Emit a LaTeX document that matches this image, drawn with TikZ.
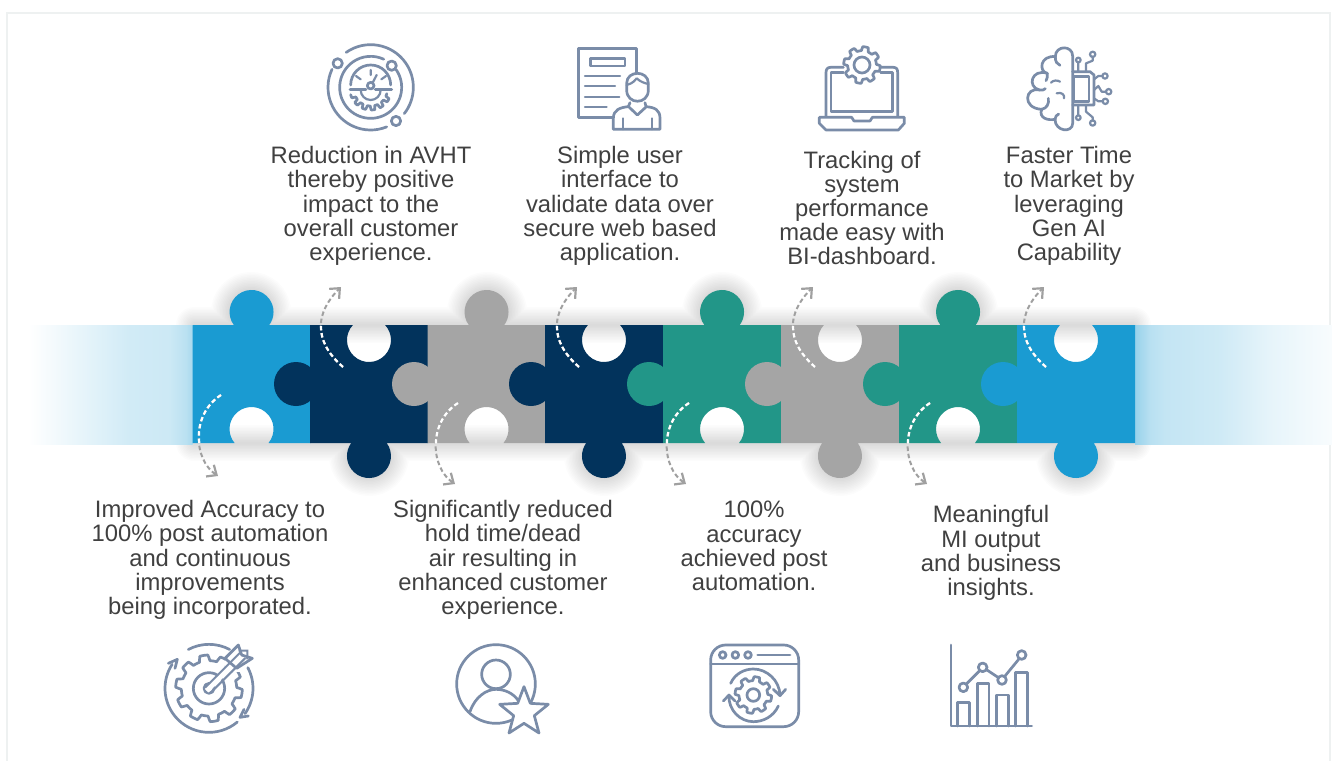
\documentclass[tikz,border=0pt]{standalone}
\usepackage{fontspec}
\setmainfont{Liberation Sans}
\usetikzlibrary{arrows.meta}
\definecolor{pblue}{HTML}{1A9BD2}
\definecolor{pnavy}{HTML}{02335C}
\definecolor{pgray}{HTML}{A5A5A5}
\definecolor{pgreen}{HTML}{229688}
\definecolor{icn}{HTML}{7A8CA8}
\definecolor{txt}{HTML}{404040}
\definecolor{frm}{HTML}{EEF1F1}
\definecolor{arw}{HTML}{A0A0A0}
\pgfdeclarehorizontalshading{bandL}{100bp}{color(0bp)=(white); color(26bp)=(white);
 color(47bp)=(pblue!14!white); color(56bp)=(pblue!20!white); color(68bp)=(pblue!22!white); color(73bp)=(pblue!30!white); color(75bp)=(pblue!38!white); color(100bp)=(pblue!38!white)}
\pgfdeclarehorizontalshading{bandR}{100bp}{color(0bp)=(pblue!45!white); color(25bp)=(pblue!45!white); color(28.8bp)=(pblue!31!white); color(32.6bp)=(pblue!26!white); color(46.6bp)=(pblue!21!white); color(59bp)=(pblue!11!white); color(75bp)=(pblue!3!white); color(100bp)=(pblue!3!white)}
\tikzset{
 lbl/.style={inner sep=0pt,align=center,text=txt,font=\fontsize{23.8}{24.2}\selectfont},
 ic/.style={draw=icn,line width=2.7pt,line join=round,line cap=round},
 ict/.style={draw=icn,line width=2.2pt,line join=round,line cap=round},
 flow/.style={line width=2pt,dash pattern=on 4.5pt off 2.8pt}
}
% piece with top tab and bottom notch: colour, left x
\newcommand\pieceA[2]{\fill[#1] (#2,325) -- ({#2+59-17.7},325) arc[start angle=143.7,end angle=396.3,radius=22pt] -- ({#2+118},325) -- ({#2+118},443) -- ({#2+59+17},443) arc[start angle=39.5,end angle=-219.5,radius=22pt] -- (#2,443) -- cycle;}
% piece with top notch and bottom tab
\newcommand\pieceB[2]{\fill[#1] (#2,325) -- ({#2+59-16.1},325) arc[start angle=223,end angle=-43,radius=22pt] -- ({#2+118},325) -- ({#2+118},443) -- ({#2+59+17.7},443) arc[start angle=-36.3,end angle=216.3,radius=22pt] -- (#2,443) -- cycle;}
\newcommand\sidetab[2]{\fill[#1] ({#2-14},384) circle[radius=22pt];}
\newcommand\toptab[1]{-- ({#1-17.7},325) arc[start angle=143.7,end angle=396.3,radius=22pt]}
\newcommand\bottab[1]{-- ({#1-17.7},443) arc[start angle=216.3,end angle=-36.3,radius=22pt]}
\newcommand\gearplot[7]{plot[samples=181,domain=#7,variable=\t] ({#1+(#3+(#4-#3)*min(1,max(0,.5+1.5*sin(#5*\t+#6))))*cos(\t)},{#2+(#3+(#4-#3)*min(1,max(0,.5+1.5*sin(#5*\t+#6))))*sin(\t)})}
\newcommand\upflow[2]{%
 \coordinate (#1s) at ({343+#2},367);\coordinate (#1a) at ({312+#2},340);\coordinate (#1b) at ({316+#2},312);\coordinate (#1e) at ({341+#2},287);
 \draw[arw,flow,-{Straight Barb[length=8pt,width=14pt,line width=2.2pt]}] (#1s) .. controls (#1a) and (#1b) .. (#1e);
 \begin{scope}\clip (0,325) rectangle (1332,443);
 \draw[white,flow,line width=2.2pt] (#1s) .. controls (#1a) and (#1b) .. (#1e);
 \end{scope}}
\newcommand\downflow[3]{%
 \coordinate (#1s) at ({221+#2},{395+#3});\coordinate (#1a) at ({190+#2},{415+#3});\coordinate (#1b) at ({194+#2},{460+#3});\coordinate (#1e) at ({218+#2},{476+#3});
 \draw[arw,flow,-{Straight Barb[length=8pt,width=14pt,line width=2.2pt]}] (#1s) .. controls (#1a) and (#1b) .. (#1e);
 \begin{scope}\clip (0,325) rectangle (1332,443);
 \draw[white,flow,line width=2.2pt] (#1s) .. controls (#1a) and (#1b) .. (#1e);
 \end{scope}}
\begin{document}
\begin{tikzpicture}[x=1pt,y=1pt,yscale=-1]
\useasboundingbox (0,0) rectangle (1332,760);
\fill[white] (0,0) rectangle (1332,760);
\draw[frm,line width=2.2pt] (7,762) -- (7,13) -- (1330,13) -- (1330,762);
% shadows
\foreach \w in {3,6,...,36}{
 \draw[black,opacity=.011,line width=\w pt,line cap=round] (194,325) \toptab{251} \toptab{487} \toptab{722} \toptab{958} -- (1133,325);
 \draw[black,opacity=.011,line width=\w pt,line cap=round] (194,443) \bottab{369} \bottab{604} \bottab{840} \bottab{1076} -- (1133,443);
}
% bands
\shade[shading=bandL] (25,325) rectangle (192.5,444);
\shade[shading=bandR] (1135,325) rectangle (1332,444);
% puzzle
\pieceA{pblue}{192.5}
\pieceB{pnavy}{310}\sidetab{pnavy}{310}
\pieceA{pgray}{427.5}\sidetab{pgray}{428}
\pieceB{pnavy}{545}\sidetab{pnavy}{545}
\pieceA{pgreen}{663}\sidetab{pgreen}{663}
\pieceB{pgray}{781}\sidetab{pgray}{781}
\pieceA{pgreen}{899}\sidetab{pgreen}{899}
\pieceB{pblue}{1017}\sidetab{pblue}{1017}
% flow arrows
\downflow{fa}{0}{0}
\upflow{fb}{0}
\downflow{fc}{237}{8}
\upflow{fd}{236}
\downflow{fe}{468}{8}
\upflow{ff}{472}
\downflow{fg}{709}{8}
\upflow{fh}{703}
% labels
\node[lbl] (t1) at (371,206) {Reduction in AVHT\\thereby positive\\impact to the\\overall customer\\experience.};
\node[lbl] (t2) at (620,206) {Simple user\\interface to\\validate data over\\secure web based\\application.};
\node[lbl] (t3) at (862,208) {Tracking of\\system\\performance\\made easy with\\BI-dashboard.};
\node[lbl] (t4) at (1069,206) {Faster Time\\to Market by\\leveraging\\Gen AI\\Capability};
\node[lbl] (t5) at (210,560) {Improved Accuracy to\\100\% post automation\\and continuous\\improvements\\being incorporated.};
\node[lbl] (t6) at (503,560) {Significantly reduced\\hold time/dead\\air resulting in\\enhanced customer\\experience.};
\node[lbl] (t7) at (754,546) {100\%\\accuracy\\achieved post\\automation.};
\node[lbl] (t8) at (991,553) {Meaningful\\MI output\\and business\\insights.};
% icon: gauge
\begin{scope}[shift={(300,30)},scale=.33333]
\draw[ic] (212,172) ++(-125:128) arc[start angle=-125,end angle=38,radius=128pt];
\draw[ic] (212,172) ++(68:128) arc[start angle=68,end angle=205,radius=128pt];
\draw[ic] (212,172) ++(-35:93) arc[start angle=-35,end angle=295,radius=93pt];
\draw[ic] (113,100) circle[radius=14pt] (275,107) circle[radius=14pt] (288,273) circle[radius=14pt];
\draw[ic] (152,165) arc[start angle=180,end angle=360,radius=60pt];
\draw[ic] (150,178) -- (198,178) (226,178) -- (275,178);
\draw[ic] (212,167) circle[radius=10pt];
\draw[ict] (218,158) -- (230,135) (212,120) -- (212,135) (168,138) -- (182,148) (258,138) -- (244,148);
\draw[ic] \gearplot{212}{178}{50}{62}{14}{0}{15:165};
\draw[ict] (182,180) arc[start angle=180,end angle=0,radius=30pt];
\end{scope}
% icon: document and person
\begin{scope}[shift={(300,30)},scale=.33333]
\draw[ic] (1010,130) -- (1010,55) -- (836,55) -- (836,262) -- (940,262);
\draw[ic] (872,85) rectangle (975,108);
\draw[ict] (855,138) -- (960,138) (855,168) -- (945,168) (855,200) -- (958,200) (855,230) -- (920,230);
\draw[ic] (980,160) .. controls (980,120) and (1045,120) .. (1045,160) -- (1045,180) .. controls (1045,225) and (980,225) .. (980,180) -- cycle;
\draw[ict] (980,165) .. controls (1000,160) and (1005,150) .. (1010,145) .. controls (1020,155) and (1035,160) .. (1045,162);
\draw[ic] (990,218) -- (985,230) .. controls (960,232) and (940,240) .. (940,265) -- (940,298) -- (1080,298) -- (1080,265) .. controls (1080,240) and (1065,232) .. (1038,230) -- (1035,218);
\draw[ic] (988,232) -- (1012,255) -- (1037,232);
\draw[ict] (968,265) -- (968,298) (1055,265) -- (1055,298);
\end{scope}
% icon: laptop
\begin{scope}[shift={(790,30)},scale=.33333]
\draw[ic] (160,112) -- (122,112) .. controls (112,112) and (108,118) .. (108,128) -- (108,258);
\draw[ic] (270,112) -- (310,112) .. controls (320,112) and (323,118) .. (323,128) -- (323,258);
\draw[ic] (160,128) -- (123,128) -- (123,245) -- (308,245) -- (308,128) -- (272,128);
\draw[ic] (88,262) -- (185,262) -- (192,273) -- (240,273) -- (247,262) -- (343,262) -- (343,280) -- (325,300) -- (108,300) -- (88,280) -- cycle;
\draw[ic] \gearplot{216}{105}{43}{55}{8}{0}{0:360} -- cycle;
\draw[ic] (216,105) circle[radius=24pt];
\end{scope}
% icon: brain and chip
\begin{scope}[shift={(790,30)},scale=.33333]
\draw[ic] (848,280) -- (848,78) .. controls (848,45) and (796,45) .. (796,80) .. controls (750,75) and (745,125) .. (772,130) .. controls (725,115) and (710,170) .. (748,180) .. controls (705,170) and (695,235) .. (755,238) .. controls (745,265) and (775,272) .. (795,268) .. controls (795,305) and (848,310) .. (848,280) -- cycle;
\draw[ic] (796,80) .. controls (795,95) and (802,103) .. (810,106);
\draw[ic] (772,130) .. controls (772,140) and (772,148) .. (768,152);
\draw[ic] (748,180) .. controls (755,182) and (762,180) .. (766,176);
\draw[ic] (755,238) .. controls (770,235) and (778,222) .. (775,205);
\draw[ic] (795,268) .. controls (795,260) and (800,255) .. (806,252);
\draw[ict] (783,158) .. controls (790,150) and (802,150) .. (810,155) (800,190) .. controls (815,185) and (825,195) .. (822,205);
\draw[ic] (848,125) -- (900,125) -- (912,135) -- (912,225) -- (848,225);
\draw[ic] (850,140) rectangle (897,215);
\draw[ict] (865,125) -- (865,97) (888,125) -- (888,100) -- (908,92) -- (908,80) (912,148) -- (925,138) -- (938,138) (912,180) -- (925,168) -- (935,185) -- (948,185) (912,205) -- (925,214) -- (938,214) (865,225) -- (865,256) (888,225) -- (888,245) -- (908,262) -- (908,272);
\draw[ict] (865,90) circle[radius=7pt] (908,73) circle[radius=8pt] (945,138) circle[radius=8pt] (956,185) circle[radius=8pt] (946,214) circle[radius=8pt] (865,263) circle[radius=7pt] (908,279) circle[radius=8pt];
\end{scope}
% icon: target gear
\begin{scope}[shift={(140,630)},scale=.33333]
\draw[ic] \gearplot{207}{175}{83}{100}{10}{0}{0:360} -- cycle;
\fill[white] (255,127) -- (350,127) -- (350,30) -- (255,30) -- cycle;
\draw[white,line width=6pt] (230,150) -- (300,80);
\draw[ic] (207,175) circle[radius=47pt] (207,175) circle[radius=15pt];
\draw[white,line width=5pt] (200,182) -- (310,72);
\draw[icn,line width=2pt] (196,172) -- (300,68) (212,188) -- (316,84) (296,62) -- (322,62) -- (322,88);
\draw[ic] (255,85) -- (295,45) -- (305,75) (290,115) -- (337,85) -- (305,75) (255,85) -- (290,115);
\draw[ic] (207,175) ++(-118:132) arc[start angle=-118,end angle=-62,radius=132pt];
\draw[ic] (207,175) ++(-28:132) arc[start angle=-28,end angle=35,radius=132pt];
\draw[ic] (207,175) ++(50:132) arc[start angle=50,end angle=213,radius=132pt];
\draw[ic] (85,100) -- (112,88) -- (105,115);
\draw[ic] (300,262) -- (325,258) (312,238) -- (300,262);
\end{scope}
% icon: person and star
\begin{scope}[shift={(140,630)},scale=.33333]
\draw[ic] (1068,162) circle[radius=118pt];
\draw[ic] (1068,133) circle[radius=43pt];
\draw[ic] (990,245) .. controls (1005,200) and (1040,178) .. (1068,178) .. controls (1095,178) and (1120,190) .. (1135,212);
\filldraw[ic,fill=white] (1152,170) -- (1171,220) -- (1225,223) -- (1183,257) -- (1197,309) -- (1152,280) -- (1107,309) -- (1121,257) -- (1079,223) -- (1133,220) -- cycle;
\end{scope}
% icon: window with gear
\begin{scope}[shift={(690,630)},scale=.33333]
\draw[ic,rounded corners=15pt] (62,45) rectangle (326,290);
\draw[ic] (62,102) -- (326,102);
\draw[ic] (98,75) circle[radius=10pt] (136,75) circle[radius=10pt] (174,75) circle[radius=10pt];
\draw[ic] (203,75) -- (300,75);
\draw[ic] \gearplot{190}{195}{43}{55}{8}{0}{0:360} -- cycle;
\draw[ic] (190,195) circle[radius=19pt];
\draw[ic] (122,160) .. controls (135,130) and (165,117) .. (190,117) .. controls (230,117) and (268,150) .. (270,195);
\draw[ic] (265,228) .. controls (250,260) and (220,275) .. (190,275) .. controls (150,275) and (115,240) .. (117,197);
\draw[ic] (250,178) -- (270,197) -- (287,178);
\draw[ic] (100,213) -- (117,195) -- (135,213);
\end{scope}
% icon: chart
\begin{scope}[shift={(690,630)},scale=.33333]
\draw[ic] (783,45) -- (783,288) -- (1025,288);
\draw[ic] (803,288) -- (803,218) -- (838,218) -- (838,288);
\draw[ic] (862,288) -- (862,160) -- (897,160) -- (897,288);
\draw[ic] (920,288) -- (920,195) -- (955,195) -- (955,288);
\draw[ic] (977,288) -- (977,128) -- (1013,128) -- (1013,288);
\draw[ic] (829,162) -- (869,122) (891,120) -- (924,142) (945,138) -- (986,88);
\draw[ic] (820,172) circle[radius=13pt] (878,112) circle[radius=13pt] (936,150) circle[radius=13pt] (995,75) circle[radius=13pt];
\end{scope}
\end{tikzpicture}
\end{document}
